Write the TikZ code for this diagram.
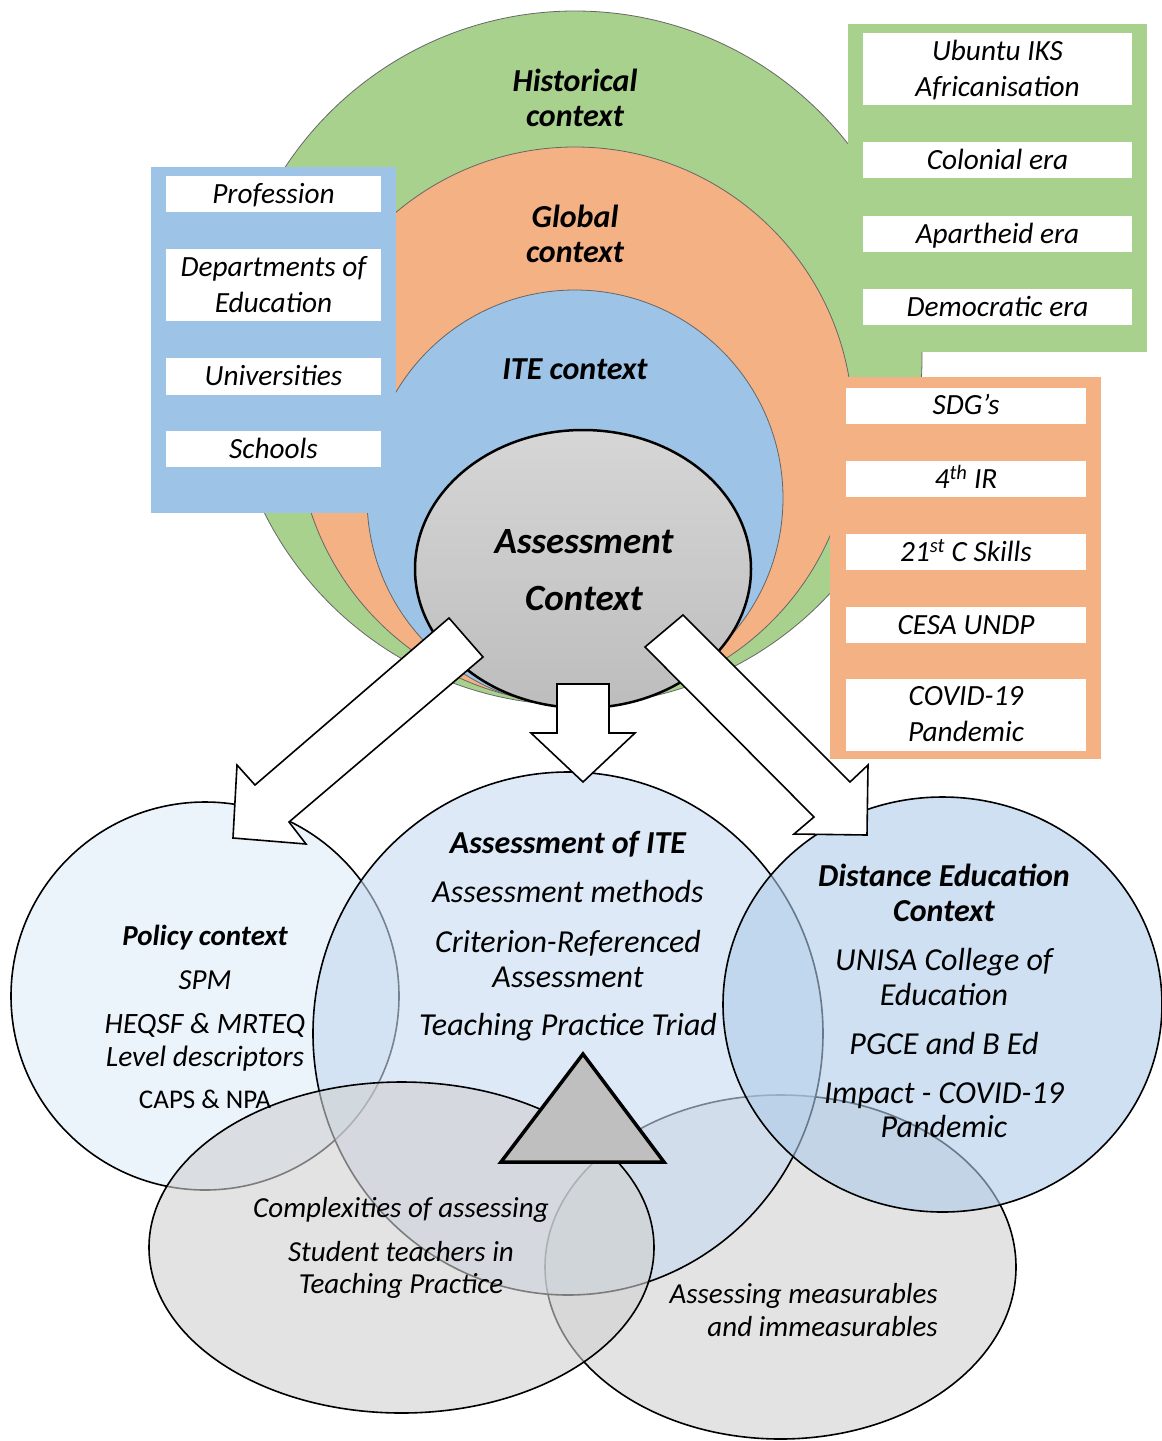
\documentclass[tikz,border=0pt]{standalone}
\usepackage{fontspec}
\setmainfont{Carlito}
\usetikzlibrary{shapes.geometric}
\definecolor{cgreen}{HTML}{A9D18E}
\definecolor{corange}{HTML}{F4B183}
\definecolor{cblue}{HTML}{9DC3E6}
\definecolor{cpolicy}{HTML}{DEEBF8}
\definecolor{cite}{HTML}{C6DAF0}
\definecolor{cdist}{HTML}{ADCBE8}
\definecolor{cgrey}{HTML}{D0D0D0}
\definecolor{ctri}{HTML}{BFBFBF}
\definecolor{acTop}{HTML}{D6D6D6}
\definecolor{acBot}{HTML}{BDBDBD}
\newcommand\bxstrut{\rule[-8.6pt]{0pt}{36pt}}
\begin{document}
\begin{tikzpicture}[x=1pt,y=-1pt,
  ring/.style={circle, draw=black!60, line width=0.8pt, inner sep=0pt},
  panel/.style={rectangle, inner sep=0pt},
  wbox/.style={rectangle, fill=white, inner sep=0pt, align=center,
     font=\itshape\fontsize{29.3}{36}\selectfont},
  wboxL/.style={wbox, minimum width=215pt},
  wboxG/.style={wbox, minimum width=269pt},
  wboxO/.style={wbox, minimum width=240pt},
  venn/.style={ellipse, draw=black, line width=1.6pt, inner sep=0pt, fill opacity=0.6},
  toplbl/.style={anchor=base, align=center, inner sep=0pt,
     font=\bfseries\itshape\fontsize{32}{35}\selectfont},
  vtext/.style={anchor=base, align=center, inner sep=0pt,
     font=\itshape\fontsize{29}{35}\selectfont},
  vhead/.style={anchor=base, align=center, inner sep=0pt,
     font=\bfseries\itshape\fontsize{29}{35}\selectfont},
  btext/.style={anchor=base, align=center, inner sep=0pt,
     font=\itshape\fontsize{32}{35}\selectfont},
  bhead/.style={anchor=base, align=center, inner sep=0pt,
     font=\bfseries\itshape\fontsize{32}{35}\selectfont},
  barrow/.style={draw=black, fill=white, line width=1.6pt, line join=miter}
]
\useasboundingbox (0,0) rectangle (1162,1441);

% concentric context circles
\node[ring, fill=cgreen, minimum size=694pt] (hist) at (575,358) {};
\node[ring, fill=corange, minimum size=556pt] (glob) at (575,425) {};
\node[ring, fill=cblue, minimum size=416pt] (itec) at (575,498) {};
\node[ellipse, draw=black, line width=2.5pt, top color=acTop, bottom color=acBot,
      minimum width=336pt, minimum height=278pt, inner sep=0pt] (ac) at (583,569) {};

% side panels
\node[panel, fill=cblue, minimum width=245pt, minimum height=346pt] (bluepanel) at (273.5,340) {};
\node[wboxL, minimum height=36pt] (prof) at (273.5,194) {\bxstrut Profession};
\node[wboxL, minimum height=72pt] (dept) at (273.5,285) {\bxstrut Departments of\\\bxstrut Education};
\node[wboxL, minimum height=37pt] (univ) at (273.5,376.5) {\bxstrut Universities};
\node[wboxL, minimum height=36pt] (schools) at (273.5,449) {\bxstrut Schools};

\node[panel, fill=cgreen, minimum width=299pt, minimum height=328pt] (greenpanel) at (997.5,188) {};
\node[wboxG, minimum height=72pt] (ubuntu) at (997.5,69) {\bxstrut Ubuntu IKS\\\bxstrut Africanisation};
\node[wboxG, minimum height=36pt] (colonial) at (997.5,160) {\bxstrut Colonial era};
\node[wboxG, minimum height=36pt] (apartheid) at (997.5,234) {\bxstrut Apartheid era};
\node[wboxG, minimum height=36pt] (democratic) at (997.5,307) {\bxstrut Democratic era};

\node[panel, fill=corange, minimum width=271pt, minimum height=382pt] (orangepanel) at (965.5,568) {};
\node[wboxO, minimum height=35pt] (sdg) at (966,405.5) {\bxstrut SDG’s};
\node[wboxO, minimum height=36pt] (ir) at (966,479) {\bxstrut 4\textsuperscript{th} IR};
\node[wboxO, minimum height=36pt] (skills) at (966,552) {\bxstrut 21\textsuperscript{st} C Skills};
\node[wboxO, minimum height=36pt] (cesa) at (966,625) {\bxstrut CESA UNDP};
\node[wboxO, minimum height=69pt] (covid) at (966,714.5) {\bxstrut COVID-19\\\bxstrut Pandemic};

% lower Venn shapes
\node[venn, fill=cgrey, minimum width=471pt, minimum height=344pt] (measure) at (780.5,1267) {};
\node[venn, fill=cpolicy, minimum width=388pt, minimum height=388pt] (policy) at (205,996) {};
\node[venn, fill=cite, minimum width=510pt, minimum height=523pt] (iteo) at (568,1033.5) {};
\node[venn, fill=cgrey, minimum width=505pt, minimum height=331pt] (complex) at (401.5,1247.5) {};
\node[venn, fill=cdist, minimum width=439pt, minimum height=415pt] (dist) at (942.5,1004.5) {};

% triad triangle
\draw[fill=ctri, draw=black, line width=3.5pt, line join=miter] (583,1054) -- (664,1162) -- (501,1162) -- cycle;

% block arrows
\draw[barrow] (449,618) -- (255,785) -- (237,765) -- (233,838) -- (306,844) -- (289,822) -- (483,657) -- cycle;
\draw[barrow] (557,684) -- (609,684) -- (609,733) -- (635,733) -- (583,782) -- (531,733) -- (557,733) -- cycle;
\draw[barrow] (683,615) -- (850,782) -- (868,765) -- (867,835) -- (794,834) -- (814,817) -- (645,647) -- cycle;

% labels in context circles (base = last line's baseline)
\node[toplbl] (histlbl) at (575,126) {Historical\\context};
\node[toplbl] (globlbl) at (575,262) {Global\\context};
\node[toplbl] (itelbl) at (575,379) {ITE context};
\node[anchor=base, align=center, inner sep=0pt,
      font=\bfseries\itshape\fontsize{37}{57}\selectfont] (aclbl) at (584,610) {Assessment\\Context};

% labels in Venn shapes
\node[bhead] (itehead) at (568,853) {Assessment of ITE};
\node[btext] (itet1) at (568,902) {Assessment methods};
\node[btext] (itet2) at (568,987) {Criterion-Referenced\\Assessment};
\node[btext] (itet3) at (568,1035) {Teaching Practice Triad};

\node[vhead] (polhead) at (205,945) {Policy context};
\node[vtext] (polt1) at (205,989) {SPM};
\node[vtext, font=\itshape\fontsize{29.5}{33}\selectfont] (polt2) at (205,1066) {HEQSF \& MRTEQ\\Level descriptors};
\node[anchor=base, inner sep=0pt, font=\fontsize{27}{30}\selectfont] (polt3) at (205,1108) {CAPS \& NPA};

\node[bhead] (disthead) at (944,921) {Distance Education\\Context};
\node[btext] (distt1) at (944,1005) {UNISA College of\\Education};
\node[btext] (distt2) at (944,1054) {PGCE and B Ed};
\node[btext, font=\itshape\fontsize{32}{34}\selectfont] (distt3) at (944,1137) {Impact - COVID-19\\Pandemic};

\node[vtext] (compt1) at (401,1217) {Complexities of assessing};
\node[vtext, font=\itshape\fontsize{29}{32}\selectfont] (compt2) at (401,1293) {Student teachers in\\Teaching Practice};

\node[vtext, anchor=base east, align=right, font=\itshape\fontsize{29}{33}\selectfont] (meast) at (938,1336) {Assessing measurables\\and immeasurables};
\end{tikzpicture}
\end{document}
